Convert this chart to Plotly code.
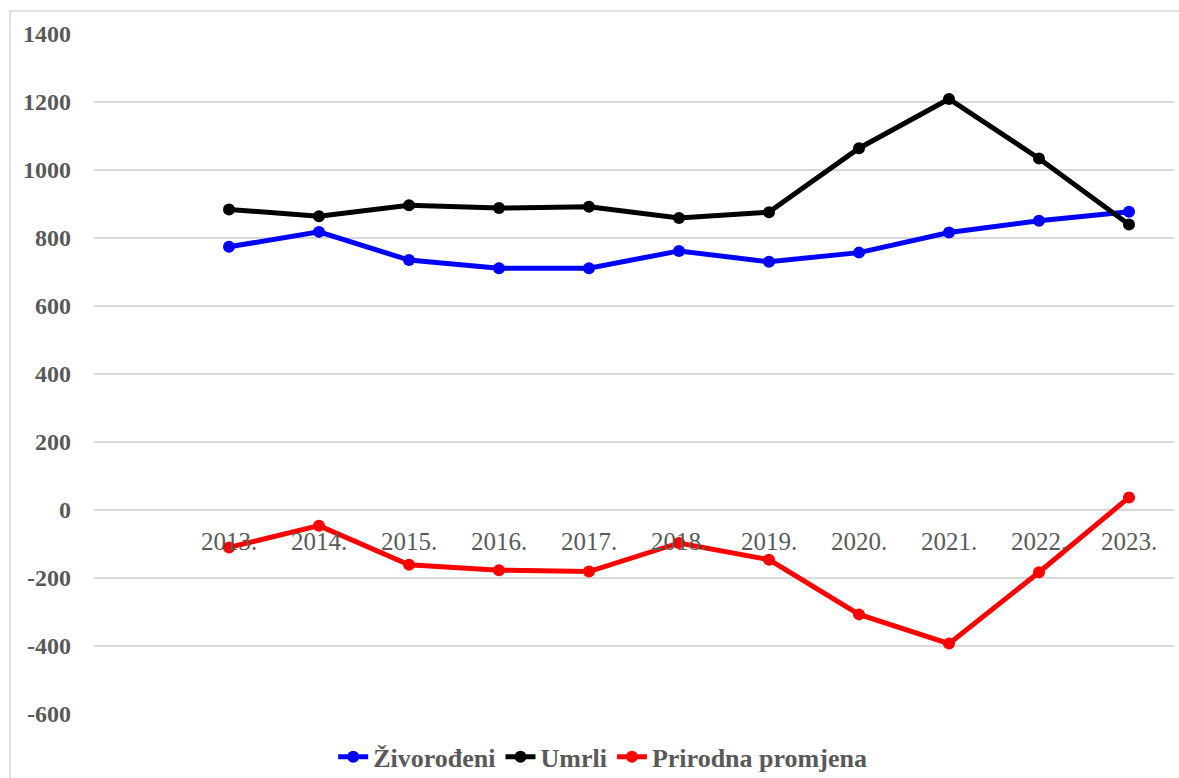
import plotly.graph_objects as go

years = ["2013.", "2014.", "2015.", "2016.", "2017.", "2018.", "2019.", "2020.", "2021.", "2022.", "2023."]
zivorodeni = [774, 818, 735, 711, 711, 762, 730, 757, 816, 851, 877]
umrli = [884, 864, 896, 888, 892, 859, 876, 1064, 1209, 1034, 840]
prirodna = [-110, -46, -161, -177, -181, -97, -146, -307, -393, -183, 37]
y_ticks = [-600, -400, -200, 0, 200, 400, 600, 800, 1000, 1200, 1400]
y_tick_labels = ["-600", "-400", "-200", "0", "200", "400", "600", "800", "1000", "1200", "1400"]

series = [
    ("Živorođeni", zivorodeni, "#0000ff"),
    ("Umrli", umrli, "#000000"),
    ("Prirodna promjena", prirodna, "#ff0000"),
]

fig = go.Figure()
for name, vals, col in series:
    fig.add_trace(go.Scatter(
        x=years, y=vals, name=name, mode="lines+markers",
        line=dict(color=col, width=5),
        marker=dict(color=col, size=12),
    ))

serif = "Liberation Serif, Times New Roman, serif"
ymin, ymax = -600, 1400
zero_pos = (0 - ymin) / (ymax - ymin)

fig.update_layout(
    width=1179, height=778,
    margin=dict(l=94, r=5, t=34, b=64, autoexpand=False),
    paper_bgcolor="white", plot_bgcolor="white",
    showlegend=True,
    legend=dict(
        orientation="h", x=0.471, xanchor="center", y=-0.063, yanchor="middle",
        font=dict(family=serif, size=26, color="#595959", weight="bold"),
        itemwidth=30, tracegroupgap=0,
    ),
    xaxis=dict(
        type="category", range=[-1.5, 10.5],
        anchor="free", position=zero_pos,
        showgrid=False, showline=False, zeroline=False, ticks="",
        tickfont=dict(family=serif, size=25, color="#595959"),
        ticklabelstandoff=14,
    ),
    yaxis=dict(
        range=[ymin, ymax], tickmode="array", tickvals=y_ticks, ticktext=y_tick_labels,
        showgrid=True, gridcolor="#d9d9d9", gridwidth=1.5,
        zeroline=False, showline=False, ticks="",
        tickfont=dict(family=serif, size=24, color="#595959", weight="bold"),
        ticklabelstandoff=22,
    ),
    shapes=[dict(
        type="rect", xref="paper", yref="paper",
        x0=(10 - 94) / 1080, x1=1.2, y0=-0.3, y1=(714 - 11) / 680,
        line=dict(color="#d9d9d9", width=1.5), fillcolor="rgba(0,0,0,0)", layer="below",
    )],
)

fig.write_html("out.html", config={"displayModeBar": False})

with open("out.html", "r", encoding="utf-8") as f:
    html = f.read()
html = html.replace("<head>", "<head><style>html,body{margin:0;padding:0;overflow:hidden;}</style>", 1)
with open("out.html", "w", encoding="utf-8") as f:
    f.write(html)
